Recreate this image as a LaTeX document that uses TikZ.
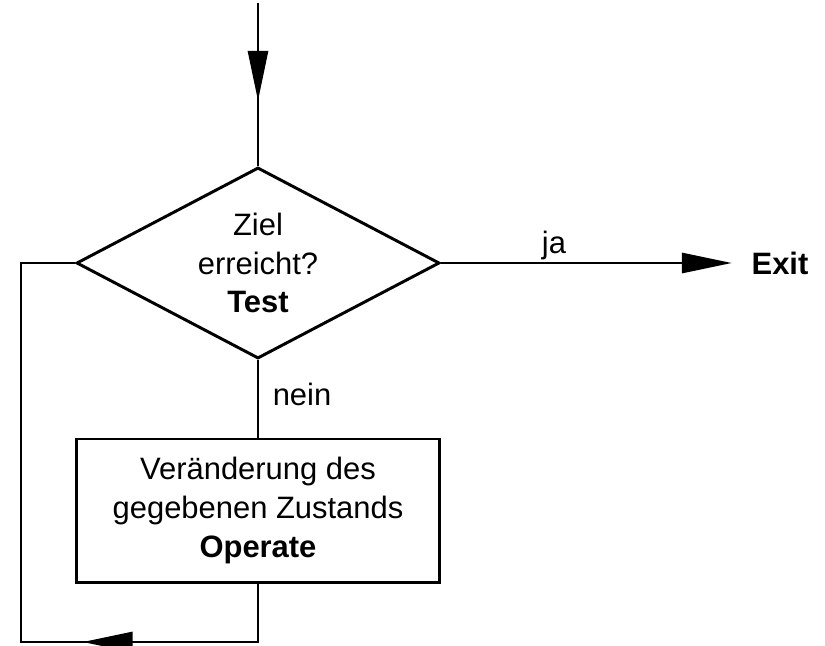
\documentclass[tikz,border=0pt]{standalone}
\usepackage{fontspec}
\setmainfont{Liberation Sans}
\usetikzlibrary{shapes.geometric,arrows.meta,decorations.markings}

\tikzset{
    >={Triangle[length=1.25cm,width=0.5cm]},
    every node/.style={font=\fontsize{22}{27.5}\selectfont},
    decision/.style={draw, diamond, aspect=1.9, line width=2.1pt, inner sep=0pt, align=center,
        minimum width=9.075cm, minimum height=4.775cm},
    process/.style={draw, rectangle, line width=2.1pt, align=center,
        minimum width=9.075cm, minimum height=3.575cm},
    midarrow/.style={postaction={decorate}, decoration={markings,
        mark=at position #1 with {\arrow{>}}}},
}

\begin{document}
\begin{tikzpicture}[x=0.025cm, y=-0.025cm, line width=2.1pt]
            \useasboundingbox (0,0) rectangle (825,646);

            % Start
            \coordinate (start) at (258,3);

            % Test and Operate
            \node[decision] (test) at (258,263) {Ziel\\erreicht?\\\textbf{Test}};
            \node[process] (op) at (258,510.5) {Veränderung des\\gegebenen Zustands\\\textbf{Operate}};

            % Exit
            \node[font=\fontsize{22}{27.5}\selectfont\bfseries] (exit) at (780,263) {Exit};

            % Labels
            \node[anchor=base] (ja) at (554,253) {ja};
            \node[anchor=base] (nein) at (302,405) {nein};

            % Loop corner
            \coordinate (corner) at (21,642);

            % Connections
            \draw[midarrow=0.6] (start) -- (test.north);
            \draw[->, shorten >=0.34cm] (test.east) -- (exit.west);
            \draw (test.south) -- (op.north);
            \draw[midarrow=0.321] (op.south) |- (corner) |- (test.west);

        \end{tikzpicture}
\end{document}
